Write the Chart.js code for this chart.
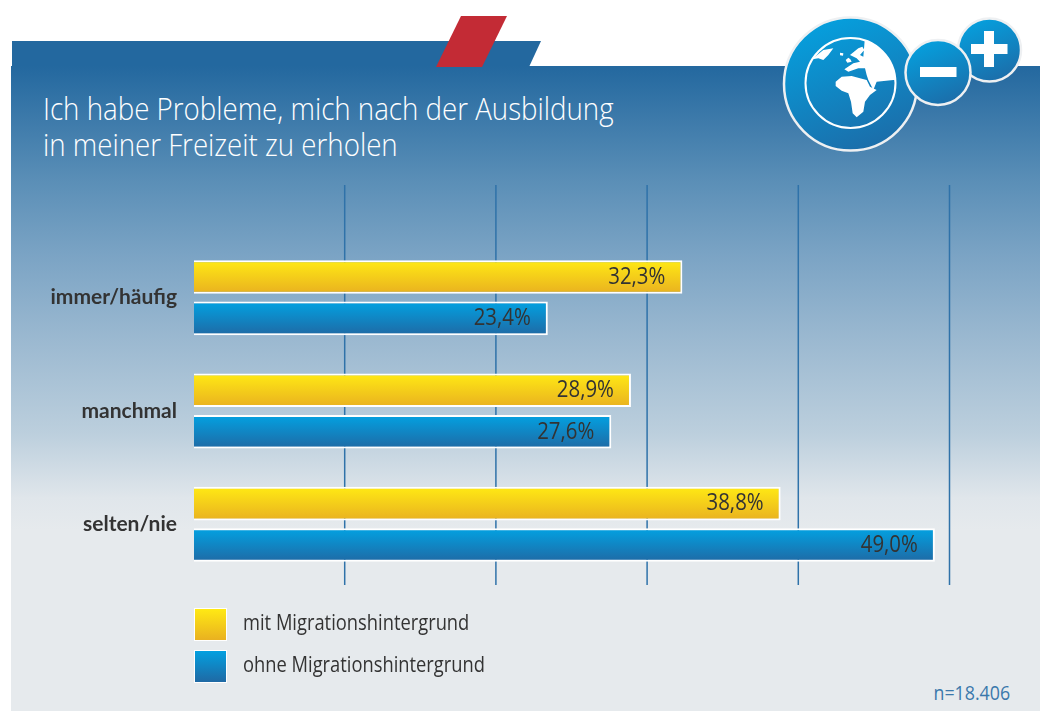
<!doctype html>
<html lang="de">

<head>
  <meta charset="utf-8">
  <title>Probleme, sich zu erholen</title>
  <script src="https://cdn.jsdelivr.net/npm/chart.js/dist/chart.umd.min.js"></script>
  <style>
    html, body { margin: 0; padding: 0; background: #fff; }
    body { width: 1046px; height: 711px; position: relative; overflow: hidden; font-family: "Open Sans", sans-serif; }
    .tab { position: absolute; left: 12px; top: 41px; width: 529px; height: 26px; background: #23689f; clip-path: polygon(0 0, 100% 0, 517px 100%, 0 100%); }
    .panel {
      position: absolute; left: 11px; top: 66px; width: 1029px; height: 645px;
      background: linear-gradient(to bottom, #23689f 0%, #5b8fb7 18%, #7aa3c4 29%, #9ab8d0 42%, #bccfdd 57%, #e0e6eb 67%, #e6eaed 72%, #e6eaed 100%);
    }
    .red { position: absolute; left: 436px; top: 16px; width: 71px; height: 51px; background: #c32b35; clip-path: polygon(25px 0, 100% 0, 46px 100%, 0 100%); }
    h1 { position: absolute; left: 43px; top: 90px; margin: 0; font-weight: 300; font-size: 32px; line-height: 36px; color: #fff; white-space: nowrap; transform: scaleX(0.865); transform-origin: left top; }
    .n { position: absolute; right: 36px; top: 679px; font-size: 20px; color: #3a78ab; transform: scaleX(0.89); transform-origin: right top; }
    svg.icon { position: absolute; left: 0; top: 0; }
    canvas { position: absolute; left: 0; top: 0; }
  </style>
</head>

<body>
  <div class="tab"></div>
  <div class="panel"></div>
  <div class="red"></div>
  <h1>Ich habe Probleme, mich nach der Ausbildung<br>in meiner Freizeit zu erholen</h1>
  <div class="n">n=18.406</div>

  <svg class="icon" width="1046" height="711">
    <defs>
      <linearGradient id="ball" x1="0.3" y1="0" x2="0.7" y2="1">
        <stop offset="0" stop-color="#05a0de" />
        <stop offset="1" stop-color="#1c6ca8" />
      </linearGradient>
      <clipPath id="globe"><circle cx="106.5" cy="159" r="135" /></clipPath>
    </defs>
    <circle cx="850.5" cy="84" r="66.5" fill="url(#ball)" stroke="#eef0f2" stroke-width="2.5" />
    <circle cx="850.5" cy="83" r="45" fill="none" stroke="#fff" stroke-width="2" />
    <g transform="translate(815 30) scale(0.3333)" fill="#fff">
      <g clip-path="url(#globe)">
        <path d="M-20 90 L0 80 L25 60 L55 55 L40 75 L25 90 L10 85 Z" />
        <path d="M75 68 L85 70 L84 77 L75 76 Z" />
        <path d="M92 90 L100 83 L106 88 L110 95 L97 98 Z" />
        <path d="M150 20 L190 20 L260 120 L255 150 L235 150 L185 155 L175 180 L160 150 L155 135 L150 115 L130 115 L100 125 L88 118 L115 100 L135 95 L125 85 L105 75 L130 55 L142 50 L148 60 L135 75 L145 80 Z" />
        <path d="M62 155 L80 140 L110 138 L135 145 L155 150 L165 170 L185 180 L165 195 L150 215 L145 245 L125 262 L113 250 L108 215 L100 190 L80 182 L62 168 Z" />
      </g>
    </g>
    <circle cx="989.5" cy="50" r="31.5" fill="url(#ball)" stroke="#eef0f2" stroke-width="2.5" />
    <rect x="971" y="44" width="36.5" height="10" fill="#fff" />
    <rect x="984" y="31" width="10" height="36" fill="#fff" />
    <circle cx="938" cy="72.5" r="32.5" fill="url(#ball)" stroke="#eef0f2" stroke-width="2.5" />
    <rect x="920" y="67" width="36.5" height="10" fill="#fff" />
  </svg>

  <canvas id="myChart" width="1046" height="711"></canvas>

  <script>
    const categories = ['immer/häufig', 'manchmal', 'selten/nie'];
    const mitMigration = [32.3, 28.9, 38.8];
    const ohneMigration = [23.4, 27.6, 49.0];
    const seriesNames = ['mit Migrationshintergrund', 'ohne Migrationshintergrund'];

    const yellow = ['#ffe914', '#e9b120'];
    const blue = ['#03a0e0', '#1f69a4'];

    function vGradient(c, y0, y1, cols) {
      const g = c.createLinearGradient(0, y0, 0, y1);
      g.addColorStop(0, cols[0]);
      g.addColorStop(1, cols[1]);
      return g;
    }

    // each bar gets its own top-to-bottom gradient
    function barFill(cols, first) {
      return (ctx) => {
        const y = ctx.chart.scales.y;
        if (!y) return cols[0];
        const mid = y.getPixelForValue(ctx.dataIndex);
        if (!isFinite(mid)) return cols[0];
        const top = first ? mid - 37 : mid + 5;
        return vGradient(ctx.chart.ctx, top, top + 33, cols);
      };
    }

    // no condensed font installed, so squeeze the text sideways
    function narrowText(c, txt, x, y, sx) {
      c.save();
      c.translate(x, y);
      c.scale(sx, 1);
      c.fillText(txt, 0, 0);
      c.restore();
    }

    // grid lines stick out above and below the bars, no line at zero
    const gridLines = {
      id: 'gridLines',
      beforeDatasetsDraw(chart) {
        const c = chart.ctx;
        const x = chart.scales.x;
        c.save();
        c.strokeStyle = '#2f72a9';
        c.lineWidth = 1.5;
        x.ticks.forEach(t => {
          if (t.value === 0) return;
          const px = x.getPixelForValue(t.value) - 0.5;
          c.beginPath();
          c.moveTo(px, 185);
          c.lineTo(px, 585);
          c.stroke();
        });
        c.restore();
      }
    };

    const valueLabels = {
      id: 'valueLabels',
      afterDatasetsDraw(chart) {
        const c = chart.ctx;
        c.save();
        c.font = '24px "Open Sans", sans-serif';
        c.fillStyle = '#333';
        c.textAlign = 'right';
        c.textBaseline = 'middle';
        chart.data.datasets.forEach((ds, i) => {
          chart.getDatasetMeta(i).data.forEach((bar, j) => {
            narrowText(c, ds.data[j].toFixed(1).replace('.', ',') + '%', bar.x - 17, bar.y, 0.85);
          });
        });
        c.restore();
      }
    };

    const boxLegend = {
      id: 'boxLegend',
      afterDraw(chart) {
        const c = chart.ctx;
        const rows = [[608, yellow], [650, blue]];
        c.save();
        c.font = '22px "Open Sans", sans-serif';
        c.textBaseline = 'middle';
        rows.forEach(([top, cols], i) => {
          c.fillStyle = '#fff';
          c.fillRect(194, top, 33, 33);
          c.fillStyle = vGradient(c, top + 1, top + 32, cols);
          c.fillRect(195, top + 1, 31, 31);
          c.fillStyle = '#333';
          narrowText(c, chart.data.datasets[i].label, 243, top + 16, 0.833);
        });
        c.restore();
      }
    };

    new Chart(document.getElementById('myChart'), {
      type: 'bar',
      data: {
        labels: categories,
        datasets: [
          { label: seriesNames[0], data: mitMigration, backgroundColor: barFill(yellow, true), borderColor: '#fff', borderWidth: 2 },
          { label: seriesNames[1], data: ohneMigration, backgroundColor: barFill(blue, false), borderColor: '#fff', borderWidth: 2 }
        ]
      },
      options: {
        indexAxis: 'y',
        responsive: false,
        animation: false,
        categoryPercentage: 0.731,
        barPercentage: 0.81,
        layout: { padding: { top: 241, bottom: 122, right: 96 } },
        plugins: { legend: { display: false }, tooltip: { enabled: false } },
        scales: {
          x: {
            min: 0, max: 50,
            ticks: { display: false, stepSize: 10 },
            grid: { display: false },
            border: { display: false }
          },
          y: {
            afterFit(scale) { scale.width = 194; },
            grid: { display: false },
            border: { display: false },
            ticks: { padding: 9, color: '#333', font: { family: 'Lato, sans-serif', size: 21, weight: 'bold' } }
          }
        }
      },
      plugins: [gridLines, valueLabels, boxLegend]
    });
  </script>
</body>

</html>
